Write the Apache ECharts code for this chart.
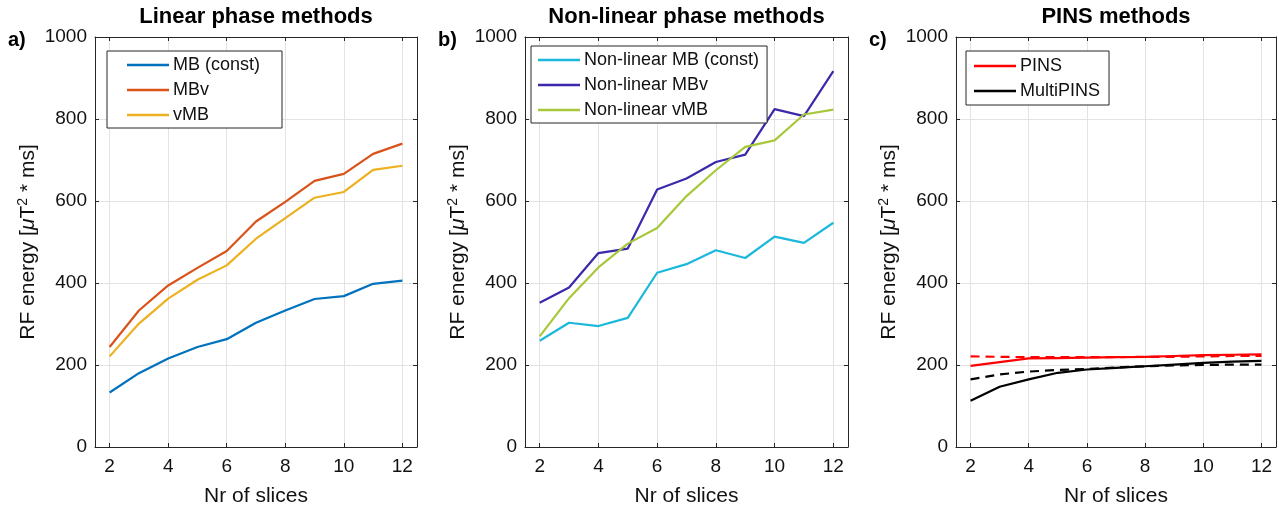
<!DOCTYPE html>
<html><head><meta charset="utf-8">
<script src="https://cdn.jsdelivr.net/npm/echarts@6/dist/echarts.min.js"></script>
<style>html,body{margin:0;padding:0;background:#fff}#c{width:1279px;height:508px}</style>
</head><body><div id="c"></div>
<script>
// ---- data ----
const slices = [2, 3, 4, 5, 6, 7, 8, 9, 10, 11, 12];
const xTicks = [2, 4, 6, 8, 10, 12];
const mbConst = [133, 180, 216, 244, 263, 303, 333, 361, 368, 398, 406];
const mbv = [244, 333, 394, 437, 478, 550, 598, 649, 666, 715, 740];
const vmb = [221, 301, 362, 408, 443, 508, 558, 608, 622, 676, 686];
const nlMbConst = [259, 303, 295, 315, 425, 446, 480, 461, 513, 498, 547];
const nlMbv = [352, 389, 473, 484, 628, 655, 695, 713, 824, 807, 917];
const nlVmb = [270, 363, 438, 496, 534, 612, 675, 732, 748, 811, 823];
const pinsSolid = [198, 207, 216, 217, 218, 219, 220, 222, 224, 225, 226];
const pinsDashed = [221, 220, 219, 219, 219, 219, 220, 220, 221, 222, 222];
const multiSolid = [113, 147, 165, 181, 189, 193, 197, 201, 205, 208, 210];
const multiDashed = [165, 177, 184, 188, 190, 194, 197, 199, 200, 201, 201];
const titles = ['Linear phase methods', 'Non-linear phase methods', 'PINS methods'];
const panelLabels = ['a)', 'b)', 'c)'];
const xName = 'Nr of slices';
const yName = 'RF energy [{it|μ}T{sup|2} * ms]';

// ---- layout ----
const FONT = '"Liberation Sans", Arial, Helvetica, sans-serif';
const AX = '#262626';
const panels = [
  { left: 95, width: 322 },
  { left: 525, width: 323 },
  { left: 956, width: 320 }
];
const TOP = 37, H = 410;

const pair = arr => slices.map((s, i) => [s, arr[i]]);

const grid = [], xAxis = [], yAxis = [], graphic = [];
panels.forEach((p, i) => {
  grid.push({ left: p.left, top: TOP, width: p.width, height: H, containLabel: false, outerBoundsMode: 'none' });
  const xBase = {
    gridIndex: i, type: 'value', min: 1.5, max: 12.5,
    axisLine: { show: true, onZero: false, lineStyle: { color: AX, width: 1 } },
    axisTick: { show: true, inside: true, length: 4, customValues: xTicks, lineStyle: { color: AX } },
  };
  xAxis.push(Object.assign({}, xBase, {
    position: 'bottom',
    axisLabel: { show: true, customValues: xTicks, margin: 10, color: '#111', fontSize: 19, fontFamily: FONT },
    splitLine: { show: true, lineStyle: { color: '#e3e3e3', width: 1 } },
    name: xName, nameLocation: 'middle', nameGap: 39,
    nameTextStyle: { fontSize: 21, color: '#111', fontFamily: FONT }
  }));
  xAxis.push(Object.assign({}, xBase, {
    position: 'top', axisLabel: { show: false }, splitLine: { show: false }
  }));
  const yBase = {
    gridIndex: i, type: 'value', min: 0, max: 1000, interval: 200,
    axisLine: { show: true, onZero: false, lineStyle: { color: AX, width: 1 } },
    axisTick: { show: true, inside: true, length: 4, lineStyle: { color: AX } },
  };
  yAxis.push(Object.assign({}, yBase, {
    position: 'left',
    axisLabel: { show: true, margin: 8, color: '#111', fontSize: 19, fontFamily: FONT, formatter: v => String(v) },
    splitLine: { show: true, lineStyle: { color: '#e3e3e3', width: 1 } },
    name: yName, nameLocation: 'middle', nameRotate: 90, nameGap: 54,
    nameTextStyle: {
      fontSize: 21, color: '#111', fontFamily: FONT,
      rich: {
        it: { fontSize: 21, fontStyle: 'italic', color: '#111', fontFamily: FONT },
        sup: { fontSize: 14, lineHeight: 14, padding: [0, 0, 11, 0], color: '#111', fontFamily: FONT }
      }
    }
  }));
  yAxis.push(Object.assign({}, yBase, {
    position: 'right', axisLabel: { show: false }, splitLine: { show: false }
  }));
  const cx = p.left + p.width / 2;
  graphic.push({
    type: 'text', x: cx, y: 17,
    style: { text: titles[i], align: 'center', verticalAlign: 'middle', font: 'bold 22px ' + FONT, fill: '#000' }
  });
  graphic.push({
    type: 'text', x: p.left - 87, y: 40,
    style: { text: panelLabels[i], align: 'left', verticalAlign: 'middle', font: 'bold 20px ' + FONT, fill: '#000' }
  });
});

function line(name, gi, data, color, dashed) {
  return {
    name, type: 'line', xAxisIndex: gi * 2, yAxisIndex: gi * 2, data: pair(data),
    symbol: 'none', showSymbol: false, silent: true, animation: false,
    lineStyle: { color, width: 2.2, type: dashed ? [9, 6] : 'solid' },
    itemStyle: { color }
  };
}

const series = [
  line('MB (const)', 0, mbConst, '#0072BD'),
  line('MBv', 0, mbv, '#D95319'),
  line('vMB', 0, vmb, '#EDB120'),
  line('Non-linear MB (const)', 1, nlMbConst, '#1BB8DC'),
  line('Non-linear MBv', 1, nlMbv, '#3A2AAB'),
  line('Non-linear vMB', 1, nlVmb, '#A7C83A'),
  line('PINS dashed', 2, pinsDashed, '#FF0000', true),
  line('MultiPINS dashed', 2, multiDashed, '#000000', true),
  line('PINS', 2, pinsSolid, '#FF0000'),
  line('MultiPINS', 2, multiSolid, '#000000')
];

function legend(data, left, top, padding) {
  return {
    data, left, top, orient: 'vertical', padding,
    icon: 'rect', itemWidth: 42, itemHeight: 2.5, itemGap: 5,
    backgroundColor: '#fff', borderColor: AX, borderWidth: 1, borderRadius: 0,
    textStyle: { fontSize: 18, color: '#111', fontFamily: FONT, lineHeight: 20, padding: [0, 0, 0, -1] },
    selectedMode: false
  };
}

const chart = echarts.init(document.getElementById('c'), null, { renderer: 'canvas' });
chart.setOption({
  animation: false,
  backgroundColor: '#fff',
  grid, xAxis, yAxis, series, graphic,
  legend: [
    legend(['MB (const)', 'MBv', 'vMB'], 107, 51, [4, 22, 3, 20]),
    legend(['Non-linear MB (const)', 'Non-linear MBv', 'Non-linear vMB'], 531, 46, [4, 8, 3, 7]),
    legend(['PINS', 'MultiPINS'], 966, 51, [5, 9, 4, 8])
  ]
});
</script></body></html>
